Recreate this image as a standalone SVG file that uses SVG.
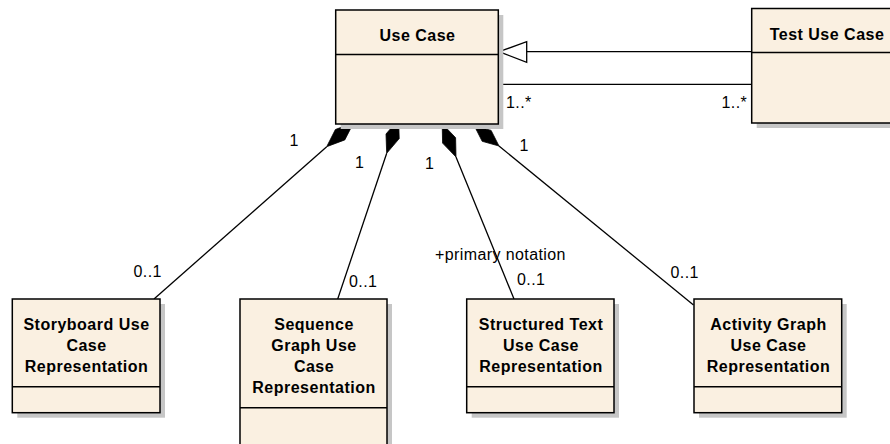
<svg xmlns="http://www.w3.org/2000/svg" width="890" height="444" viewBox="0 0 890 444">
  <style>
    .shadow { fill: #c6c6c6; }
    .box { fill: #faf0e1; stroke: #000; stroke-width: 1.5; }
    .div { stroke: #000; stroke-width: 1.5; }
    .title { font-family: "Liberation Sans", Arial, sans-serif; font-size: 16px; font-weight: bold; letter-spacing: 0.5px; text-anchor: middle; fill: #000; }
    .lbl { font-family: "Liberation Sans", Arial, sans-serif; font-size: 16px; letter-spacing: 0.4px; fill: #000; }
    .line { stroke: #000; stroke-width: 1.3; fill: none; }
    .diamond { fill: #000; stroke: #000; stroke-width: 0.8; }
    .gen { fill: #fff; stroke: #000; stroke-width: 1.3; }
  </style>
  <rect width="890" height="444" fill="#fff"/>

  <!-- relationships -->
  <g id="connectors">
    <!-- generalization: Test Use Case -> Use Case -->
    <line class="line" x1="751.7" y1="51.7" x2="526.7" y2="51.7"/>
    <polygon class="gen" points="499,51.7 526.7,41.7 526.7,62.3"/>
    <!-- association -->
    <line class="line" x1="498.3" y1="84.3" x2="751.7" y2="84.3"/>
    <text class="lbl" x="506" y="108">1..*</text>
    <text class="lbl" x="721.5" y="108">1..*</text>

    <!-- compositions -->
    <line class="line" x1="326.7" y1="146.7" x2="154" y2="299"/>
    <polygon class="diamond" points="353.6,122.7 344.8,139.9 326.7,146.7 335.4,129.5"/>
    <text class="lbl" x="289.5" y="146">1</text>
    <text class="lbl" x="133.5" y="277">0..1</text>

    <line class="line" x1="386.7" y1="153.3" x2="337.7" y2="299"/>
    <polygon class="diamond" points="398.6,119.3 399.2,138.6 386.7,153.3 386,134"/>
    <text class="lbl" x="355" y="167.5">1</text>
    <text class="lbl" x="349" y="287">0..1</text>

    <line class="line" x1="456" y1="157" x2="514" y2="299"/>
    <polygon class="diamond" points="442.2,123.7 455.6,137.7 456,157 442.6,143.1"/>
    <text class="lbl" x="425" y="169">1</text>
    <text class="lbl" x="435" y="260">+primary notation</text>
    <text class="lbl" x="517" y="285">0..1</text>

    <line class="line" x1="499" y1="146" x2="693.5" y2="305"/>
    <polygon class="diamond" points="474.3,125.7 491.1,130.4 499,146 482.2,141.3"/>
    <text class="lbl" x="519.5" y="151">1</text>
    <text class="lbl" x="670.5" y="278">0..1</text>
  </g>

  <g id="use-case">
    <rect class="shadow" x="340.7" y="15" width="162.6" height="114"/>
    <rect class="box" x="335.7" y="10" width="162.6" height="114"/>
    <line class="div" x1="335.7" y1="54.5" x2="498.3" y2="54.5"/>
    <text class="title" x="417.5" y="41">Use Case</text>
  </g>

  <g id="test-use-case">
    <rect class="shadow" x="756.7" y="13.5" width="150" height="114.5"/>
    <rect class="box" x="751.7" y="8.5" width="150" height="114.5"/>
    <line class="div" x1="751.7" y1="52.5" x2="901.7" y2="52.5"/>
    <text class="title" x="827" y="39.5">Test Use Case</text>
  </g>

  <g id="storyboard">
    <rect class="shadow" x="17.3" y="304" width="147.7" height="113.7"/>
    <rect class="box" x="12.3" y="299" width="147.7" height="113.7"/>
    <line class="div" x1="12.3" y1="386.7" x2="160" y2="386.7"/>
    <text class="title" x="86.5" y="329.5">Storyboard Use</text>
    <text class="title" x="86.5" y="350.7">Case</text>
    <text class="title" x="86.5" y="372">Representation</text>
  </g>

  <g id="sequence-graph">
    <rect class="shadow" x="245" y="304" width="147" height="150"/>
    <rect class="box" x="240" y="299" width="147" height="150"/>
    <line class="div" x1="240" y1="407.7" x2="387" y2="407.7"/>
    <text class="title" x="314" y="329.5">Sequence</text>
    <text class="title" x="314" y="350.7">Graph Use</text>
    <text class="title" x="314" y="372">Case</text>
    <text class="title" x="314" y="393.3">Representation</text>
  </g>

  <g id="structured-text">
    <rect class="shadow" x="471.7" y="304" width="147.3" height="113.7"/>
    <rect class="box" x="466.7" y="299" width="147.3" height="113.7"/>
    <line class="div" x1="466.7" y1="386.7" x2="614" y2="386.7"/>
    <text class="title" x="541" y="329.5">Structured Text</text>
    <text class="title" x="541" y="350.7">Use Case</text>
    <text class="title" x="541" y="372">Representation</text>
  </g>

  <g id="activity-graph">
    <rect class="shadow" x="699" y="304" width="147.7" height="113.7"/>
    <rect class="box" x="694" y="299" width="147.7" height="113.7"/>
    <line class="div" x1="694" y1="386.7" x2="841.7" y2="386.7"/>
    <text class="title" x="768.5" y="329.5">Activity Graph</text>
    <text class="title" x="768.5" y="350.7">Use Case</text>
    <text class="title" x="768.5" y="372">Representation</text>
  </g>
</svg>
